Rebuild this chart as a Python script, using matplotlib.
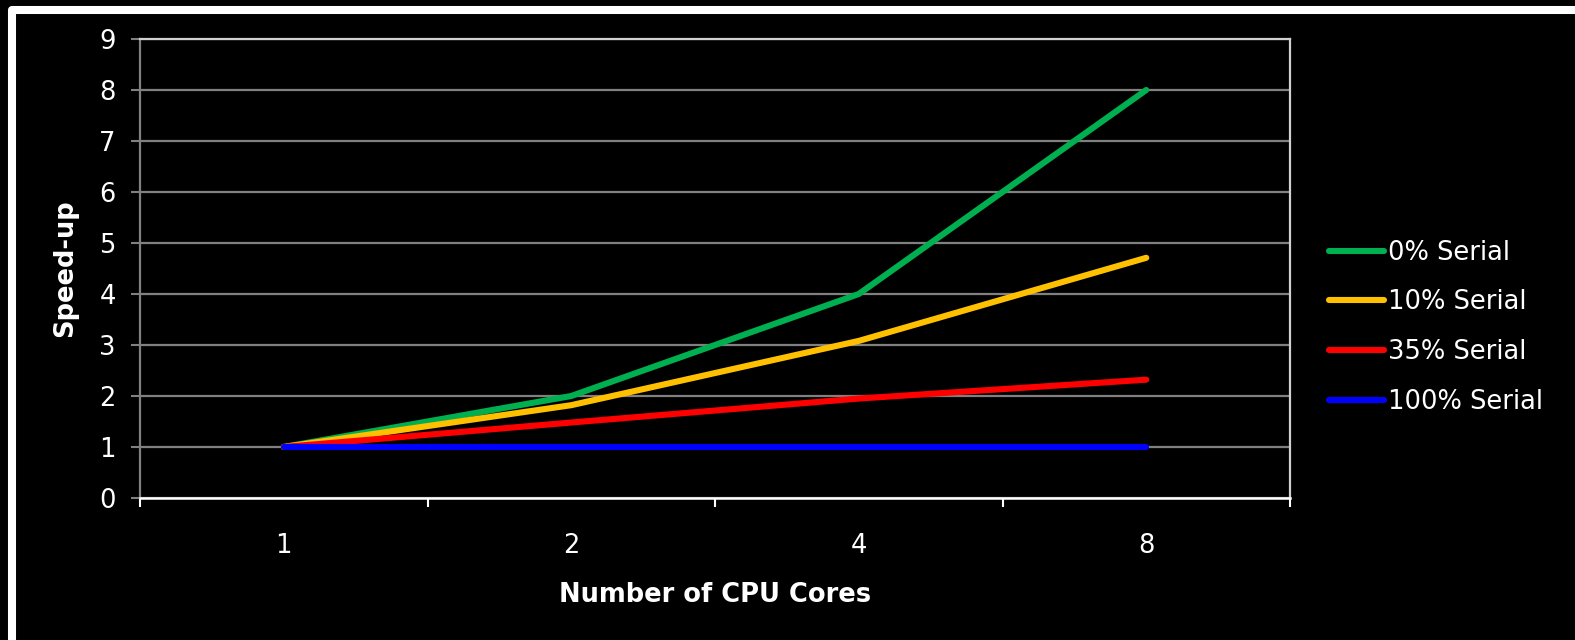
import matplotlib
matplotlib.use('Agg')
import matplotlib.pyplot as plt
from matplotlib.patches import Rectangle
from matplotlib.transforms import IdentityTransform

cores = ['1', '2', '4', '8']
serial_0 = [1, 2, 4, 8]
serial_10 = [1, 1.82, 3.08, 4.71]
serial_35 = [1, 1.48, 1.95, 2.32]
serial_100 = [1, 1, 1, 1]
series_names = ['0% Serial', '10% Serial', '35% Serial', '100% Serial']
colors = ['#00B050', '#FFC000', '#FF0000', '#0000FF']

fig = plt.figure(figsize=(15.75, 6.4), dpi=100, facecolor='black')
ax = fig.add_axes([140 / 1575, 1 - 498 / 640, (1290 - 140) / 1575, (498 - 39) / 640])
ax.set_facecolor('black')

x = list(range(len(cores)))
for vals, name, c in zip([serial_0, serial_10, serial_35, serial_100], series_names, colors):
    ax.plot(x, vals, color=c, lw=4.4, label=name, solid_capstyle='round',
            solid_joinstyle='round', zorder=3)

ax.set_xlim(-0.5, len(cores) - 0.5)
ax.set_ylim(0, 9)
ax.set_yticks(range(10))
ax.set_xticks(x)
ax.set_xticklabels(cores)
ax.set_xticks([i - 0.5 for i in range(len(cores) + 1)], minor=True)

ax.grid(axis='y', color='#808080', lw=1.6, zorder=1)
ax.tick_params(axis='y', colors='#808080', length=6.5, width=1.5, labelcolor='white',
               labelsize=18.5, pad=11)
ax.tick_params(axis='x', which='major', length=0, labelcolor='white', labelsize=18.5, pad=25)
ax.tick_params(axis='x', which='minor', colors='white', length=6.5, width=1.5)

ax.spines['left'].set_color('#808080')
ax.spines['left'].set_linewidth(1.6)
ax.spines['bottom'].set_color('white')
ax.spines['bottom'].set_linewidth(1.8)
for s in ['top', 'right']:
    ax.spines[s].set_color('#D0D0D0')
    ax.spines[s].set_linewidth(1.6)

ax.set_ylabel('Speed-up', color='white', fontsize=18.5, fontweight='bold', labelpad=15)
ax.set_xlabel('Number of CPU Cores', color='white', fontsize=18.5, fontweight='bold', labelpad=17)

leg = ax.legend(loc='center left', bbox_to_anchor=(1.014, 0.372), frameon=False,
                fontsize=18.5, handlelength=2.15, handletextpad=0.15, labelspacing=0.92,
                labelcolor='white')
for h in leg.legend_handles:
    h.set_solid_capstyle('round')

# white frame round the slide, open at right and bottom
frame = Rectangle((12, -40), 1700, 640 - 10 + 40, transform=IdentityTransform(),
                  fill=False, edgecolor='white', lw=5.8, joinstyle='round')
fig.patches.append(frame)

fig.savefig('out.png', dpi=100, facecolor='black')
